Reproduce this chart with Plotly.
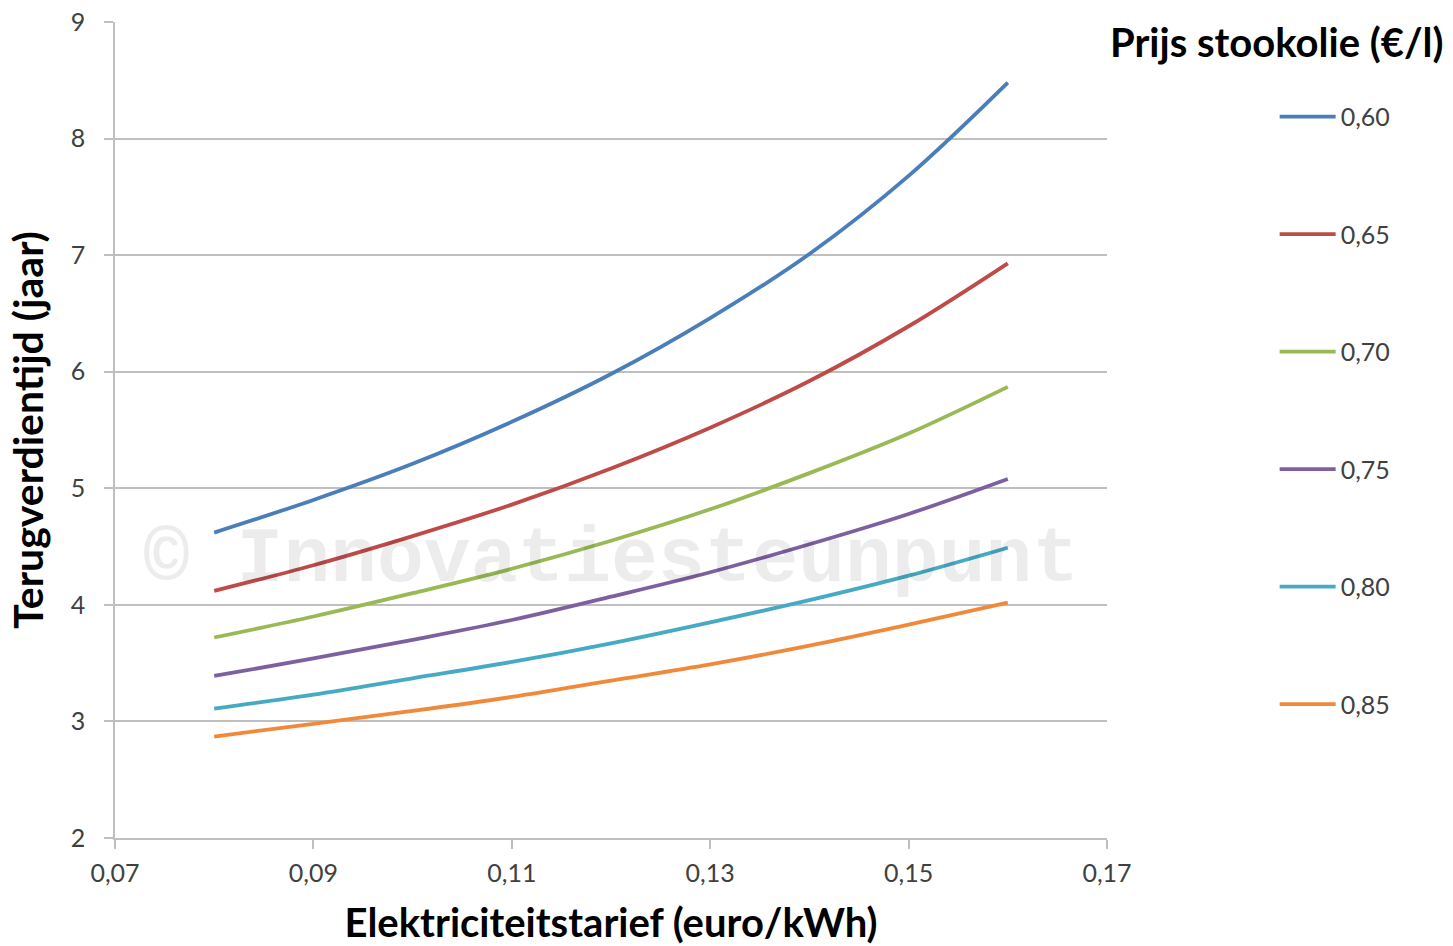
import plotly.graph_objects as go

# Electricity tariff (euro/kWh)
tarief = [0.08, 0.09, 0.10, 0.11, 0.12, 0.13, 0.14, 0.15, 0.16]

# Heating-oil price labels and payback time (years) per price
prijzen = ["0,60", "0,65", "0,70", "0,75", "0,80", "0,85"]
jaren_060 = [4.62, 4.90, 5.21, 5.57, 5.98, 6.46, 7.01, 7.68, 8.48]
jaren_065 = [4.12, 4.34, 4.59, 4.86, 5.17, 5.52, 5.92, 6.39, 6.93]
jaren_070 = [3.72, 3.90, 4.10, 4.31, 4.55, 4.82, 5.13, 5.47, 5.87]
jaren_075 = [3.39, 3.54, 3.70, 3.87, 4.07, 4.28, 4.52, 4.78, 5.08]
jaren_080 = [3.11, 3.23, 3.37, 3.51, 3.67, 3.85, 4.04, 4.25, 4.49]
jaren_085 = [2.87, 2.98, 3.09, 3.21, 3.35, 3.49, 3.65, 3.83, 4.02]
reeksen = [jaren_060, jaren_065, jaren_070, jaren_075, jaren_080, jaren_085]

kleuren = ["#4A7EBB", "#BE4B48", "#98B954", "#7D60A0", "#46AAC5", "#F08A3A"]

x_ticks = [0.07, 0.09, 0.11, 0.13, 0.15, 0.17]
y_ticks = [2, 3, 4, 5, 6, 7, 8, 9]

FONT = "Lato"
grid = "#BFBFBF"

fig = go.Figure()
for naam, waarden, kleur in zip(prijzen, reeksen, kleuren):
    fig.add_trace(go.Scatter(
        x=tarief, y=waarden, name=naam, mode="lines",
        line=dict(color=kleur, width=3.8, shape="spline"),
        legendgroup=naam,
    ))

fig.update_layout(
    width=1453, height=946,
    margin=dict(l=115, r=346, t=22, b=108, autoexpand=False),
    paper_bgcolor="white", plot_bgcolor="white",
    separators=",.",
    font=dict(family=FONT, size=25, color="#404040"),
    showlegend=True,
    legend=dict(
        x=1.169, xanchor="left", y=0.912, yanchor="top",
        font=dict(family=FONT, size=25, color="#404040"),
        tracegroupgap=82, itemwidth=56,
        bgcolor="rgba(0,0,0,0)",
    ),
)

fig.update_xaxes(
    range=[0.07, 0.17], tickvals=x_ticks, tickformat=".2f",
    showgrid=False, showline=True, linecolor=grid, linewidth=1.5,
    ticks="outside", ticklen=9, tickcolor=grid, tickwidth=1.5,
    ticklabelstandoff=3, zeroline=False,
    title=dict(text="<b>Elektriciteitstarief (euro/kWh)</b>",
               font=dict(family=FONT, size=40, color="#000000"), standoff=25),
)
fig.update_yaxes(
    range=[2, 9], tickvals=y_ticks,
    showgrid=True, gridcolor=grid, gridwidth=1.5,
    showline=True, linecolor=grid, linewidth=1.5,
    ticks="outside", ticklen=9, tickcolor=grid, tickwidth=1.5,
    ticklabelstandoff=14, zeroline=False,
    title=dict(text="<b>Terugverdientijd (jaar)</b>",
               font=dict(family=FONT, size=41, color="#000000"), standoff=14),
)

# Legend heading
fig.add_annotation(
    text="<b>Prijs stookolie (€/l)</b>", xref="paper", yref="paper",
    x=1.0015, y=0.9755, xanchor="left", yanchor="middle", showarrow=False,
    font=dict(family=FONT, size=40, color="#000000"),
)

# Copyright watermark
fig.add_annotation(
    text="<b>© Innovatiesteunpunt</b>", xref="paper", yref="paper",
    x=0.5005, y=0.3407, xanchor="center", yanchor="middle", showarrow=False,
    font=dict(family="Liberation Mono", size=78, color="rgba(0,0,0,0.075)"),
)

fig.write_html("out.html")
